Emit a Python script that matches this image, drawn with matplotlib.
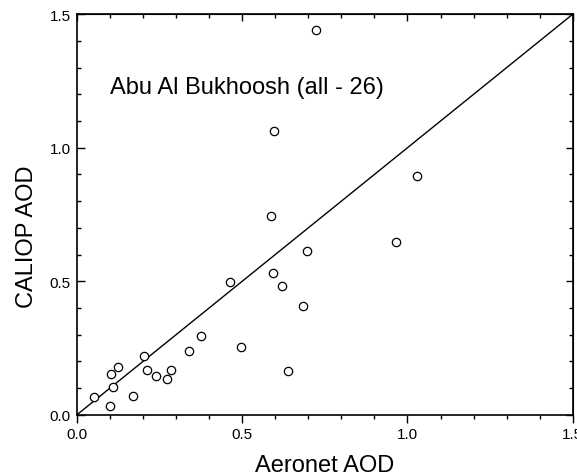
import matplotlib
matplotlib.use("Agg")
import matplotlib.pyplot as plt
from matplotlib.ticker import MultipleLocator

plt.rcParams['font.family'] = ['Liberation Sans', 'DejaVu Sans']

aeronet = [0.051, 0.101, 0.109, 0.104, 0.123, 0.169, 0.203, 0.212, 0.240, 0.273,
           0.285, 0.338, 0.376, 0.495, 0.639, 0.463, 0.594, 0.619, 0.695, 0.684,
           0.965, 0.722, 0.597, 0.587, 1.028]
caliop = [0.067, 0.031, 0.104, 0.152, 0.180, 0.069, 0.220, 0.167, 0.144, 0.135,
          0.167, 0.237, 0.294, 0.252, 0.164, 0.498, 0.532, 0.483, 0.612, 0.407,
          0.647, 1.442, 1.063, 0.744, 0.893]
one_to_one = [0.0, 1.5]
title_text = "Abu Al Bukhoosh (all - 26)"

fig = plt.figure(figsize=(5.77, 4.77), dpi=100)
ax = fig.add_axes([0.1335, 0.1285, 0.859, 0.8395])

ax.plot(one_to_one, one_to_one, color='black', lw=1.0)
ax.plot(aeronet, caliop, linestyle='none', marker='o', markersize=6,
        markerfacecolor='white', markeredgecolor='black', markeredgewidth=0.9)

ax.set_xlim(0, 1.5)
ax.set_ylim(0, 1.5)
ax.xaxis.set_major_locator(MultipleLocator(0.5))
ax.xaxis.set_minor_locator(MultipleLocator(0.1))
ax.yaxis.set_major_locator(MultipleLocator(0.5))
ax.yaxis.set_minor_locator(MultipleLocator(0.1))
ax.xaxis.set_major_formatter(plt.FormatStrFormatter('%.1f'))
ax.yaxis.set_major_formatter(plt.FormatStrFormatter('%.1f'))

ax.tick_params(axis='x', which='both', direction='out', top=False, labelsize=11)
ax.tick_params(axis='x', which='major', length=6, width=1, pad=3)
ax.tick_params(axis='x', which='minor', length=3, width=1)
ax.tick_params(axis='y', which='both', direction='in', right=False, labelsize=11)
ax.tick_params(axis='y', which='major', length=6, width=1, pad=4.5)
ax.tick_params(axis='y', which='minor', length=3, width=1)

sec_x = ax.secondary_xaxis('top')
sec_x.xaxis.set_major_locator(MultipleLocator(0.5))
sec_x.xaxis.set_minor_locator(MultipleLocator(0.1))
sec_x.tick_params(which='both', direction='in', labeltop=False)
sec_x.tick_params(which='major', length=5, width=1)
sec_x.tick_params(which='minor', length=3, width=1)
sec_y = ax.secondary_yaxis('right')
sec_y.yaxis.set_major_locator(MultipleLocator(0.5))
sec_y.yaxis.set_minor_locator(MultipleLocator(0.1))
sec_y.tick_params(which='both', direction='in', labelright=False)
sec_y.tick_params(which='major', length=5, width=1)
sec_y.tick_params(which='minor', length=3, width=1)

for s in ax.spines.values():
    s.set_linewidth(1.2)

ax.set_xlabel('Aeronet AOD', fontsize=17, labelpad=9)
ax.set_ylabel('CALIOP AOD', fontsize=17)
ax.yaxis.set_label_coords(-0.078, 0.446)
ax.text(0.1, 1.228, title_text, fontsize=17, va='center', ha='left')

fig.savefig('out.png', dpi=100)
